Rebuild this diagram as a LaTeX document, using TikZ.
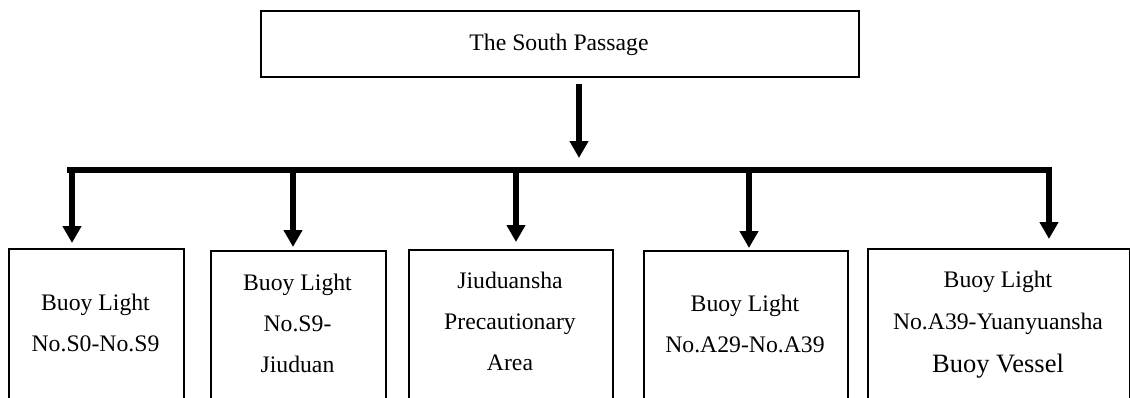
\documentclass[tikz,border=0pt]{standalone}
\usepackage{fontspec}
\setmainfont{Liberation Serif}
\usetikzlibrary{arrows.meta}
\begin{document}
\begin{tikzpicture}[x=1pt,y=-1pt,
  box/.style={draw, line width=2pt, anchor=north west, inner sep=0pt, minimum height=220pt},
  txt/.style={align=center, inner sep=0pt, anchor=base, font=\fontsize{23.7}{40.7}\selectfont},
  arr/.style={line width=6pt, -{Triangle[width=18pt,length=17pt]}},
  barline/.style={line width=6pt}]
\useasboundingbox[fill=white] (0,0) rectangle (1130,397);
\clip (0,0) rectangle (1130,397);
% top box
\node[box, minimum width=598pt, minimum height=66pt] (top) at (260,10) {};
\node[txt] (toptxt) at (559,50.7) {The South Passage};
% bottom boxes
\node[box, minimum width=175pt] (b1) at (8,248) {};
\node[box, minimum width=175pt] (b2) at (210,250) {};
\node[box, minimum width=204pt] (b3) at (408,249) {};
\node[box, minimum width=204pt] (b4) at (643,250) {};
\node[box, minimum width=262pt] (b5) at (867,248) {};
% texts (anchored at the baseline of the last line)
\node[txt] (t1) at (95.5,351) {Buoy Light\\No.S0-No.S9};
\node[txt] (t2) at (297.5,372) {Buoy Light\\No.S9-\\Jiuduan};
\node[txt] (t3) at (510,370) {Jiuduansha\\Precautionary\\Area};
\node[txt] (t4) at (745,352) {Buoy Light\\No.A29-No.A39};
\node[txt, font=\fontsize{23.7}{42.5}\selectfont] (t5) at (998,372) {Buoy Light\\No.A39-Yuanyuansha\\{\fontsize{26.5}{42}\selectfont Buoy Vessel}};
% connectors
\coordinate (s0) at (579,84);
\coordinate (e0) at (579,158);
\coordinate (barL) at (67,170);
\coordinate (barR) at (1052,170);
\draw[arr] (s0) -- (e0);
\draw[barline] (barL) -- (barR);
\draw[arr, shorten >=5pt] (barL -| 72,0) -- (b1.north -| 72,0);
\draw[arr, shorten >=3pt] (barL -| 293,0) -- (b2.north -| 293,0);
\draw[arr, shorten >=7pt] (barL -| 516,0) -- (b3.north -| 516,0);
\draw[arr, shorten >=2pt] (barL -| 749,0) -- (b4.north -| 749,0);
\draw[arr, shorten >=9pt] (barL -| 1049,0) -- (b5.north -| 1049,0);
\end{tikzpicture}
\end{document}
